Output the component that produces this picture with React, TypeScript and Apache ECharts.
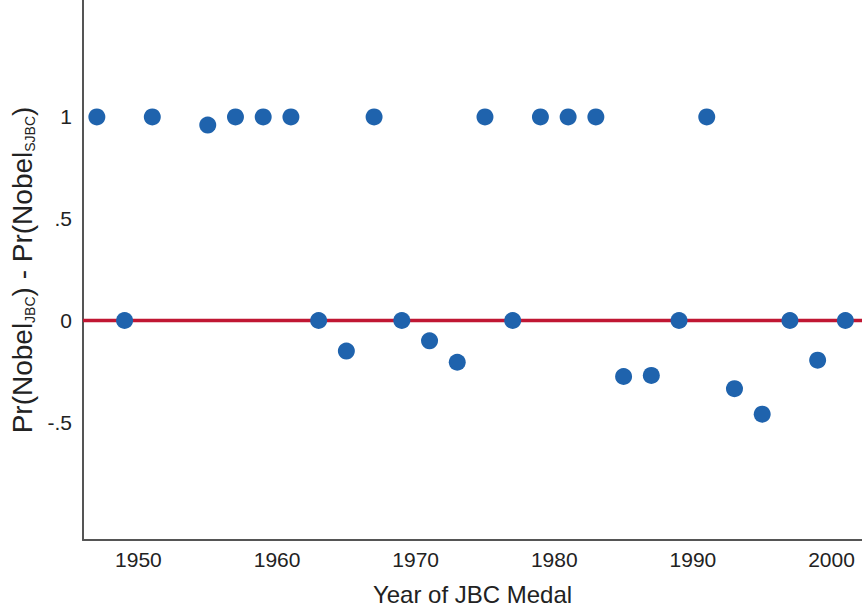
import React, { useEffect, useRef } from "react";
import * as echarts from "echarts";

// Medal years and the difference in Nobel probability for each
const years = [
  1947, 1949, 1951, 1955, 1957, 1959, 1961, 1963, 1965, 1967, 1969, 1971, 1973,
  1975, 1977, 1979, 1981, 1983, 1985, 1987, 1989, 1991, 1993, 1995, 1997, 1999, 2001,
];
const diffs = [
  1, 0, 1, 0.96, 1, 1, 1, 0, -0.15, 1, 0, -0.1, -0.205,
  1, 0, 1, 1, 1, -0.275, -0.27, 0, 1, -0.335, -0.46, 0, -0.195, 0,
];
const xTicks = [1950, 1960, 1970, 1980, 1990, 2000];
const yTicks = [-0.5, 0, 0.5, 1];
const yTickLabels = ["-.5", "0", ".5", "1"];

const FONT = "Liberation Sans, Arial, sans-serif";

export default function App() {
  const ref = useRef<HTMLDivElement>(null);

  useEffect(() => {
    if (!ref.current) return;
    const chart = echarts.init(ref.current, null, { renderer: "svg" });
    chart.setOption({
      animation: false,
      backgroundColor: "#ffffff",
      grid: { left: 83, right: 0, top: 0, bottom: 70 },
      xAxis: {
        type: "value",
        min: 1946,
        max: 2002.2,
        name: "Year of JBC Medal",
        nameLocation: "middle",
        nameGap: 42,
        nameTextStyle: { fontFamily: FONT, fontSize: 24, color: "#222" },
        splitLine: { show: false },
        axisLine: { show: true, onZero: false, lineStyle: { color: "#555", width: 2 } },
        axisTick: { show: false },
        axisLabel: {
          customValues: xTicks,
          margin: 9,
          fontFamily: FONT,
          fontSize: 21,
          color: "#222",
          formatter: (v: number) => String(v),
        },
      },
      yAxis: {
        type: "value",
        min: -1.078,
        max: 1.574,
        name: "{n|Pr(Nobel}{s|JBC}{n|) - Pr(Nobel}{s|SJBC}{n|)}",
        nameLocation: "middle",
        nameGap: 44,
        nameTextStyle: {
          fontFamily: FONT,
          color: "#222",
          rich: {
            n: { fontFamily: FONT, fontSize: 28, color: "#222", verticalAlign: "bottom", lineHeight: 30 },
            s: { fontFamily: FONT, fontSize: 14, color: "#222", verticalAlign: "bottom", lineHeight: 22 },
          },
        },
        splitLine: { show: false },
        axisLine: { show: true, onZero: false, lineStyle: { color: "#555", width: 2 } },
        axisTick: { show: false },
        axisLabel: {
          customValues: yTicks,
          margin: 11,
          fontFamily: FONT,
          fontSize: 21,
          color: "#222",
          formatter: (v: number) => {
            const i = yTicks.findIndex((t) => Math.abs(t - v) < 1e-9);
            return i >= 0 ? yTickLabels[i] : "";
          },
        },
      },
      series: [
        {
          type: "line",
          data: [
            [1946, 0],
            [2002.2, 0],
          ],
          symbol: "none",
          lineStyle: { color: "#c01733", width: 3.5 },
          z: 1,
          silent: true,
        },
        {
          type: "scatter",
          data: years.map((y, i) => [y, diffs[i]]),
          symbol: "circle",
          symbolSize: 17,
          itemStyle: { color: "#1f63ad", opacity: 1 },
          z: 3,
        },
      ],
    });
    return () => chart.dispose();
  }, []);

  return (
    <div
      ref={ref}
      style={{ position: "fixed", left: 0, top: 0, width: 862, height: 611 }}
    />
  );
}
